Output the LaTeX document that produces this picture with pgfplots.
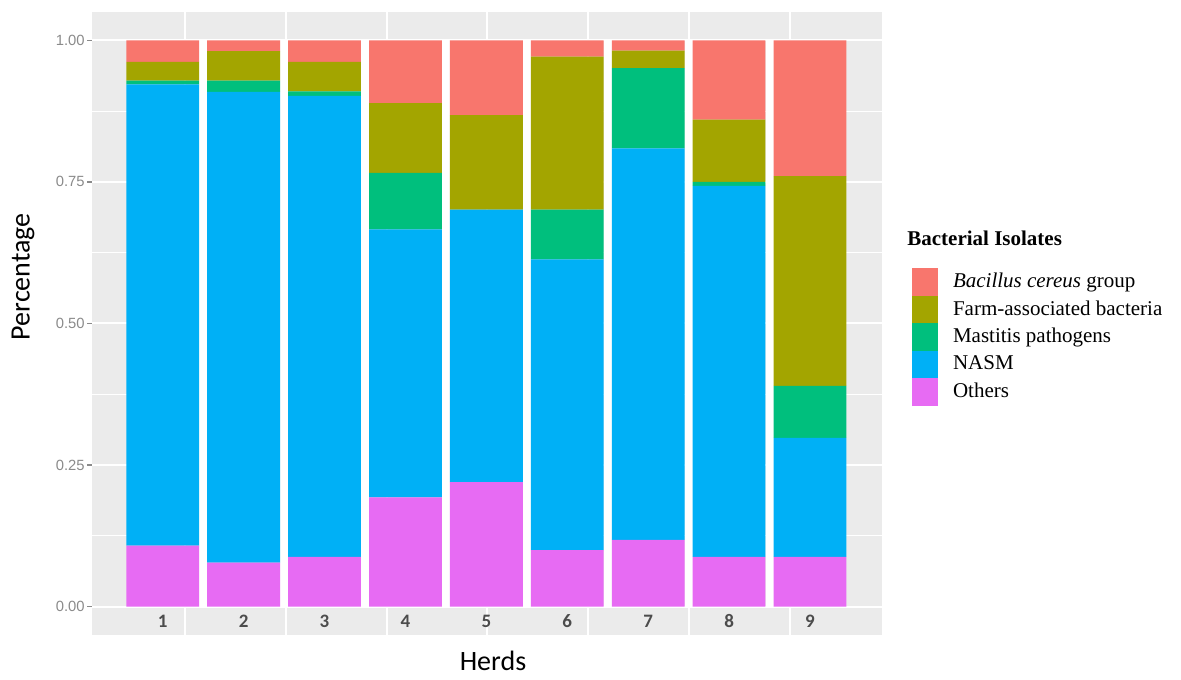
\documentclass[border=0pt]{standalone}
\usepackage{fontspec}
\setmainfont{Liberation Serif}
\newfontfamily\arialf{Liberation Sans}
\newfontfamily\calf{Carlito}
\usepackage{pgfplots}
\pgfplotsset{compat=1.18}
\definecolor{cBac}{HTML}{F8766D}
\definecolor{cFarm}{HTML}{A3A500}
\definecolor{cMast}{HTML}{00BF7D}
\definecolor{cNasm}{HTML}{00B0F6}
\definecolor{cOth}{HTML}{E76BF3}
\definecolor{panel}{HTML}{EBEBEB}
\definecolor{ticktxt}{HTML}{8A8A8A}
\pgfplotsset{sq/.style={legend image code/.code={\fill[##1] (0pt,-6.875pt) rectangle (13pt,6.875pt);}}}
\begin{document}
\begin{tikzpicture}
\begin{axis}[
  name=ax, set layers,
  width=395pt, height=311.5pt, scale only axis,
  xmin=0.126, xmax=9.89, ymin=-0.05, ymax=1.05,
  axis background/.style={fill=panel},
  axis line style={draw=none},
  ybar stacked, bar width=0.9,
  xtick={1,2,3,4,5,6,7,8,9},
  xticklabels={1,2,3,4,5,6,7,8,9},
  xtick style={draw=none},
  xticklabel style={font=\calf\bfseries\fontsize{9.5}{10}\selectfont, color=black!70, anchor=center, yshift=7pt},
  extra x ticks={1.276,2.522,3.768,5.014,6.260,7.506,8.752},
  extra x tick labels={},
  extra x tick style={grid=major, tick style={draw=none}},
  ytick={0,0.25,0.5,0.75,1},
  minor ytick={0.125,0.375,0.625,0.875},
  ymajorgrids, yminorgrids,
  major grid style={white, line width=1pt},
  minor grid style={white, line width=0.5pt},
  ytick pos=left, ytick align=outside,
  major tick length=2.5pt, minor tick length=0pt,
  ytick style={color=ticktxt, line width=0.6pt},
  /pgf/number format/assume math mode=true,
  yticklabel style={font=\arialf\fontsize{7.4}{8}\selectfont, color=ticktxt,
    /pgf/number format/fixed, /pgf/number format/fixed zerofill, /pgf/number format/precision=2,
    anchor=east, inner sep=0pt, xshift=-1pt},
  ylabel={Percentage},
  ylabel style={font=\calf\fontsize{14}{16}\selectfont, at={(axis description cs:-0.0873,0.575)}, anchor=center},
  xlabel={Herds},
  xlabel style={font=\calf\fontsize{14}{16}\selectfont, at={(axis description cs:0.5076,-0.042)}, anchor=center},
  reverse legend,
  legend cell align=left,
  legend style={at={(axis description cs:1.038,0.589)}, anchor=north west, draw=none, fill=none,
    inner sep=0pt, outer sep=0pt, row sep=0pt, column sep=7.5pt,
    font=\fontsize{10.5}{12}\selectfont,
    nodes={inner sep=0pt, minimum height=13.75pt}},
]
\addplot[sq, fill=cOth, draw=none] coordinates {(1,0.108) (2,0.078) (3,0.088) (4,0.193) (5,0.220) (6,0.100) (7,0.118) (8,0.088) (9,0.088)};
\addlegendentry{Others}
\addplot[sq, fill=cNasm, draw=none] coordinates {(1,0.814) (2,0.831) (3,0.814) (4,0.473) (5,0.481) (6,0.513) (7,0.691) (8,0.655) (9,0.210)};
\addlegendentry{NASM}
\addplot[sq, fill=cMast, draw=none] coordinates {(1,0.007) (2,0.020) (3,0.008) (4,0.100) (5,0.000) (6,0.088) (7,0.142) (8,0.007) (9,0.092)};
\addlegendentry{Mastitis pathogens}
\addplot[sq, fill=cFarm, draw=none] coordinates {(1,0.033) (2,0.052) (3,0.052) (4,0.123) (5,0.167) (6,0.270) (7,0.031) (8,0.110) (9,0.370)};
\addlegendentry{Farm-associated bacteria}
\addplot[sq, fill=cBac, draw=none] coordinates {(1,0.038) (2,0.019) (3,0.038) (4,0.111) (5,0.132) (6,0.029) (7,0.018) (8,0.140) (9,0.240)};
\addlegendentry{\textit{Bacillus cereus} group}
\pgfplotsinvokeforeach{1.5,2.5,3.5,4.5,5.5,6.5,7.5,8.5}{\draw[white, line width=4pt] (axis cs:#1,0) -- (axis cs:#1,1);}
\end{axis}
\node[anchor=west, inner sep=0pt, font=\bfseries\fontsize{10.5}{12}\selectfont] at ([shift={(12.5pt,-113pt)}]ax.north east) {Bacterial Isolates};
\pgfresetboundingbox
\useasboundingbox ([shift={(-46pt,-22pt)}]ax.south west) rectangle ([shift={(149.5pt,6pt)}]ax.north east);
\end{tikzpicture}
\end{document}
